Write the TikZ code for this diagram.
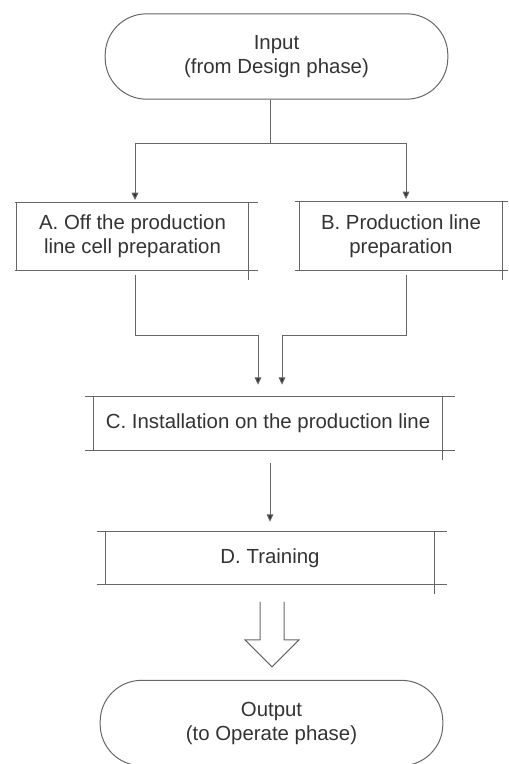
\documentclass[tikz,border=0pt]{standalone}
\usepackage{fontspec}
\setmainfont{Liberation Sans}
\usetikzlibrary{positioning}
\usetikzlibrary{calc}
\usetikzlibrary{arrows.meta}
\definecolor{linegray}{HTML}{666666}
\definecolor{textgray}{HTML}{333333}

\begin{document}
\begin{tikzpicture}[x=0.75pt, y=-0.75pt,
    every node/.style={font=\fontsize{15.3}{18}\selectfont, text=textgray, align=center},
    terminal/.style={draw=linegray, line width=0.75pt, rounded corners=31pt, minimum width=257pt, minimum height=64pt, inner sep=0pt},
    stepbox/.style={inner sep=0pt},
    sketch/.style={draw=linegray, line width=0.75pt},
    arr/.style={draw=linegray, line width=0.75pt, -{Triangle[width=5pt,length=5.5pt,fill=textgray]}}]

    \useasboundingbox (0,0) rectangle (508,764);

    \node[terminal] (input) at (276.5,56.5) {Input\\(from Design phase)};

    \node[stepbox, minimum width=173.25pt, minimum height=50.25pt] (boxA) at (132.5,236.5) {A. Off the production\\line cell preparation};
    \node[stepbox, minimum width=151.5pt, minimum height=51pt] (boxB) at (401,236) {B. Production line\\preparation};
    \node[stepbox, minimum width=261pt, minimum height=39.75pt] (boxC) at (268,423.5) {C. Installation on the production line};
    \node[stepbox, minimum width=246pt, minimum height=39pt] (boxD) at (270,558) {D. Training};

    \node[terminal] (output) at (271.5,723) {Output\\(to Operate phase)};

    % hand drawn looking boxes
    \foreach \n/\l/\r in {boxA/2/10, boxB/5/6, boxC/9/13, boxD/9/13} {
        \draw[sketch] ($(\n.north west)+(-\l,0)$) -- ($(\n.north east)+(\r,0)$);
        \draw[sketch] ($(\n.south west)+(-\l,0)$) -- ($(\n.south east)+(\r,0)$);
        \draw[sketch] (\n.north west) -- (\n.south west);
        \draw[sketch] (\n.north east) -- ($(\n.south east)+(0,10)$);
    }

    \draw[arr, shorten >=2pt] ($(input.south)+(-6,0)$) -- ++(0,44) -| ($(boxA.north)+(2.5,0)$);
    \draw[arr, shorten >=2pt] ($(input.south)+(-6,44)$) -| ($(boxB.north)+(5,0)$);

    \draw[arr] ($(boxA.south)+(2.5,5)$) -- ++(0,60) -| ($(boxC.north)+(-10,-12)$);
    \draw[arr] ($(boxB.south)+(5,5)$) -- ++(0,60) -| ($(boxC.north)+(14,-12)$);

    \draw[arr] ($(boxC.south)+(2,13)$) -- ($(boxD.north)+(0,-10)$);

    % open arrow to output
    \coordinate (tip) at ($(output.north)+(0.5,-13)$);
    \draw[sketch] ($(tip)+(-12,-65)$) -- ($(tip)+(-12,-27)$) -- ($(tip)+(-27,-27)$) -- (tip)
        -- ($(tip)+(27,-27)$) -- ($(tip)+(12,-27)$) -- ($(tip)+(12,-65)$);

\end{tikzpicture}
\end{document}
